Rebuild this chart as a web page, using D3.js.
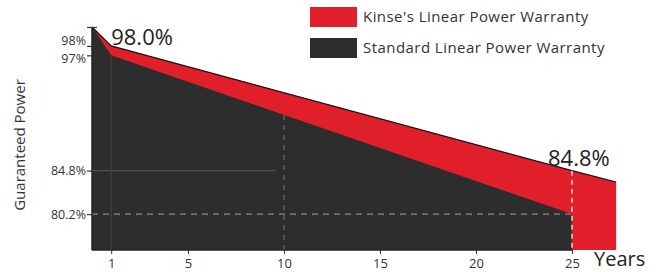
<!DOCTYPE html>
<html>
<head>
<meta charset="utf-8">
<script src="https://cdn.jsdelivr.net/npm/d3@7"></script>
<style>
  body { margin: 0; background: #fff; }
  svg text { font-family: "Open Sans", "Noto Sans", sans-serif; }
</style>
</head>
<body>
<div id="chart"></div>
<script>
// data
var kinseYears  = [0, 1, 25, 27.3];
var kinseValues = [100, 98, 84.8, 83.6];
var stdYears    = [0, 1, 25];
var stdValues   = [100, 97, 80.2];
var xTicks = [1, 5, 10, 15, 20, 25];
var yTicks = [100, 98, 97, 84.8, 80.2];
var yTickLabels = ["", "98%", "97%", "84.8%", "80.2%"];
var legendNames = ["Kinse's Linear Power Warranty", "Standard Linear Power Warranty"];
var legendColors = ["#e11f2b", "#2d2d2d"];

var width = 667, height = 272;

var svg = d3.select("#chart").append("svg")
    .attr("width", width)
    .attr("height", height);

// scales
var x = d3.scaleLinear()
    .domain([0, 25])
    .range([92, 572]);
var y = d3.scaleLinear()
    .domain([76.4, 100])
    .range([250, 27]);
var baseVal = 76.4;

var kinse = kinseYears.map(function(d, i) { return {yr: d, v: kinseValues[i]}; });
var std = stdYears.map(function(d, i) { return {yr: d, v: stdValues[i]}; });

var area = d3.area()
    .x(function(d) { return x(d.yr); })
    .y0(y(baseVal))
    .y1(function(d) { return y(d.v); });
var line = d3.line()
    .x(function(d) { return x(d.yr); })
    .y(function(d) { return y(d.v); });

// red area first, dark area on top
svg.append("path").datum(kinse)
    .attr("d", area)
    .attr("fill", legendColors[0]);
svg.append("path").datum(std)
    .attr("d", area)
    .attr("fill", legendColors[1]);
svg.append("path").datum(kinse)
    .attr("d", line)
    .attr("fill", "none")
    .attr("stroke", "#111")
    .attr("stroke-width", 1.2);

// guide lines
svg.append("line")
    .attr("x1", x(0)).attr("x2", x(10) - 8)
    .attr("y1", y(84.8)).attr("y2", y(84.8))
    .attr("stroke", "#505050").attr("stroke-width", 1.2);
svg.append("line")
    .attr("x1", x(0)).attr("x2", x(25))
    .attr("y1", y(80.2)).attr("y2", y(80.2))
    .attr("stroke", "#8a8a8a").attr("stroke-width", 1.2)
    .attr("stroke-dasharray", "6,5");
svg.append("line")
    .attr("x1", x(1)).attr("x2", x(1))
    .attr("y1", y(97)).attr("y2", y(baseVal))
    .attr("stroke", "#3f3f3f").attr("stroke-width", 1.5);
var std10 = stdValues[1] + (stdValues[2] - stdValues[1]) * (10 - 1) / 24;
svg.append("line")
    .attr("x1", x(10)).attr("x2", x(10))
    .attr("y1", y(std10)).attr("y2", y(baseVal))
    .attr("stroke", "#5f7478").attr("stroke-width", 1.2)
    .attr("stroke-dasharray", "5,5");
svg.append("line")
    .attr("x1", x(25)).attr("x2", x(25))
    .attr("y1", y(84.8)).attr("y2", y(baseVal))
    .attr("stroke", "#fff").attr("stroke-width", 1.2)
    .attr("stroke-dasharray", "5,4");

// axes
var xAxis = svg.append("g")
    .attr("transform", "translate(0," + y(baseVal) + ")")
    .call(d3.axisBottom(x).tickValues(xTicks).tickSize(4).tickSizeOuter(0));
xAxis.select(".domain").attr("stroke", "#222").attr("stroke-width", 1.5)
    .attr("d", "M" + x(0) + ",0H" + x(25));
xAxis.selectAll(".tick line").attr("stroke", "#333");
xAxis.selectAll(".tick text")
    .attr("font-size", 13).attr("fill", "#333").attr("dy", "0.85em");

var yAxis = svg.append("g")
    .attr("transform", "translate(" + x(0) + ",0)")
    .call(d3.axisLeft(y).tickValues(yTicks).tickSize(5).tickSizeOuter(0)
      .tickFormat(function(d, i) { return yTickLabels[i]; }));
yAxis.select(".domain").attr("stroke", "#222").attr("stroke-width", 1.5)
    .attr("d", "M0," + y(100) + "V" + y(baseVal));
yAxis.selectAll(".tick line").attr("stroke", "#333").attr("stroke-width", 1.2);
yAxis.selectAll(".tick").filter(function(d) { return d === 100; })
    .select("line").attr("x1", 5).attr("x2", -5);
yAxis.selectAll(".tick text")
    .attr("font-size", 12.5).attr("fill", "#333").attr("x", -6)
    .attr("y", function(d) { return d === 98 ? -5 : (d === 97 ? 3 : 0); });

svg.append("text")
    .attr("transform", "translate(25," + 145 + ") rotate(-90)")
    .attr("text-anchor", "middle")
    .attr("font-size", 15)
    .attr("fill", "#333")
    .text("Guaranteed Power");

svg.append("text")
    .attr("x", 594).attr("y", 266)
    .attr("font-size", 20).attr("fill", "#222")
    .text("Years");

// value labels
svg.append("text")
    .attr("x", x(1)).attr("y", y(98) - 1)
    .attr("font-size", 22).attr("fill", "#222")
    .text("98.0%");
svg.append("text")
    .attr("x", x(25) - 24).attr("y", y(84.8) - 5)
    .attr("font-size", 22).attr("fill", "#222")
    .text("84.8%");

// legend
var legend = svg.selectAll(".legend").data(legendNames)
  .enter().append("g")
    .attr("transform", function(d, i) { return "translate(310," + (7 + i * 31) + ")"; });
legend.append("rect")
    .attr("width", 47).attr("height", 20)
    .attr("fill", function(d, i) { return legendColors[i]; });
legend.append("text")
    .attr("x", 53).attr("y", 15)
    .attr("font-size", 15).attr("letter-spacing", 0.45).attr("fill", "#333")
    .text(function(d) { return d; });
</script>
</body>
</html>
